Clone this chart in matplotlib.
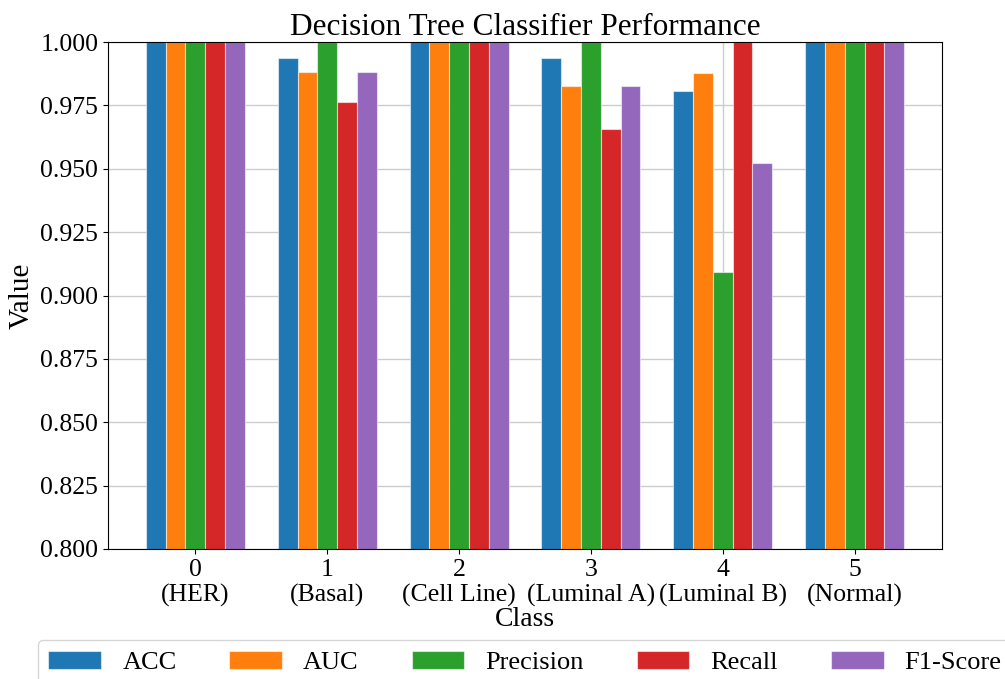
import matplotlib

matplotlib.use("Agg")
import matplotlib.pyplot as plt
import numpy as np

plt.rcParams["font.family"] = ["Liberation Serif", "DejaVu Serif"]

classes = ["0\n(HER)", "1\n(Basal)", "2\n(Cell Line)", "3\n(Luminal A)", "4\n(Luminal B)", "5\n(Normal)"]
metrics = ["ACC", "AUC", "Precision", "Recall", "F1-Score"]
acc = [1.0, 0.9936, 1.0, 0.9936, 0.9806, 1.0]
auc = [1.0, 0.9881, 1.0, 0.9828, 0.9878, 1.0]
precision = [1.0, 1.0, 1.0, 1.0, 0.9091, 1.0]
recall = [1.0, 0.9762, 1.0, 0.9655, 1.0, 1.0]
f1 = [1.0, 0.9880, 1.0, 0.9825, 0.9524, 1.0]
colors = ["#1f77b4", "#ff7f0e", "#2ca02c", "#d62728", "#9467bd"]

series = [acc, auc, precision, recall, f1]
x = np.arange(len(classes))
width = 0.15

fig = plt.figure(figsize=(10.05, 6.79), dpi=100)
ax = fig.add_axes([0.1075, 0.1915, 0.8298, 0.7466])

for i, (name, vals) in enumerate(zip(metrics, series)):
    ax.bar(x + (i - 2) * width, vals, width, label=name, color=colors[i],
           edgecolor=(1, 1, 1, 0.55), linewidth=0.8)

ax.set_ylim(0.8, 1.0)
ax.set_xticks(x)
ax.set_xticklabels(classes, fontsize=18.5)
yt = np.arange(0.8, 1.0001, 0.025)
ax.set_yticks(yt)
ax.set_yticklabels([f"{v:.3f}" for v in yt], fontsize=18.5)
ax.set_axisbelow(True)
ax.grid(True, color="#cccccc", linewidth=1)
ax.set_xlabel("Class", fontsize=20, labelpad=0)
ax.set_ylabel("Value", fontsize=21)
ax.set_title("Decision Tree Classifier Performance", fontsize=22.5, pad=3)

fig.legend(loc="upper center", bbox_to_anchor=(0.5224, 0.0574), bbox_transform=fig.transFigure,
           ncol=5, fontsize=19, borderaxespad=0, frameon=True)

fig.savefig("out.png", dpi=100)
